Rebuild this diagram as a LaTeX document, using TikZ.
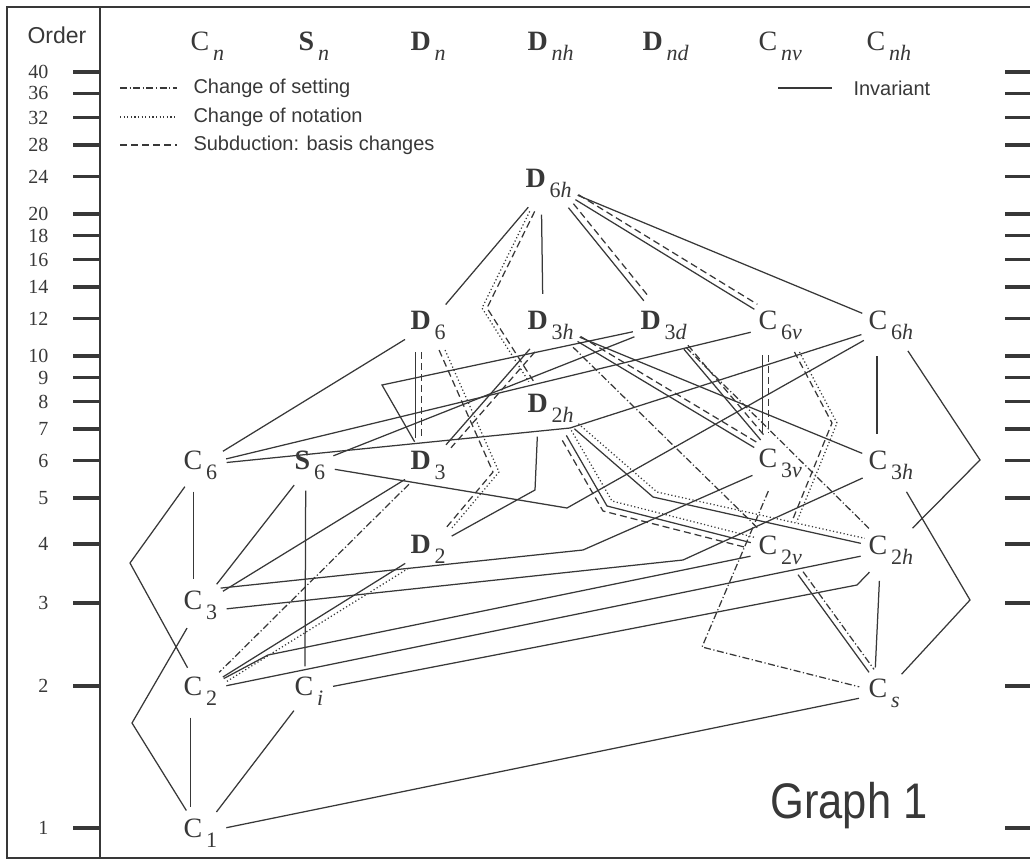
\documentclass[tikz,border=0pt]{standalone}
\usepackage{fontspec}
\setmainfont{Liberation Serif}
\newfontfamily\helv{Liberation Sans}
\usetikzlibrary{calc}
\definecolor{ink}{HTML}{383838}
\newcommand{\Grp}[3]{#1\hspace{4pt}\raisebox{-10pt}{\fontsize{22}{22}\selectfont #2\textit{#3}}}
\tikzset{Group/.style={
    circle,
    inner sep=3pt,
    text=ink,
    anchor=text,
    xshift=-9.5pt, yshift=-9.3pt,
    font=\fontsize{28}{28}\selectfont,
    }
}

\begin{document}
\begin{tikzpicture}[x=1pt, y=-1pt,
    inv/.style={draw=ink, line width=1.25pt},
    chset/.style={inv, dash pattern=on 7pt off 2.5pt on 1.2pt off 2.5pt},
    chnot/.style={inv, dash pattern=on 1.2pt off 2.4pt},
    subd/.style={inv, dash pattern=on 7pt off 4pt},
    sh/.style={transform canvas={shift={#1}}},
    Legend/.style={anchor=west, text=ink, font=\helv\fontsize{20}{20}\selectfont},
]
\useasboundingbox (0,0) rectangle (1030,861);
% frame and order scale
\draw[ink, line width=1.5pt] (1030,7) -- (7,7) -- (7,858) -- (1030,858);
\draw[ink, line width=1.2pt] (100,7) -- (100,858);
\node[text=ink, font=\helv\fontsize{23}{23}\selectfont] (order) at (57,35) {Order};
\foreach \n in {1,2,3,4,5,6,7,8,9,10,12,14,16,18,20,24,28,32,36,40}{
  \pgfmathsetmacro{\yy}{828-205*ln(\n)}
  \draw[ink, line width=3.5pt] (73,\yy) -- (100,\yy);
  \draw[ink, line width=3.5pt] (1005,\yy) -- (1030,\yy);
  \node[anchor=east, text=ink, font=\fontsize{20}{20}\selectfont] at (52,\yy) {\n};
}

% column heads
\node[Group] (hCn) at (200,41) {\Grp{C}{}{n}};
\node[Group] (hSn) at (308,41) {\Grp{\textbf{S}}{}{n}};
\node[Group] (hDn) at (420,41) {\Grp{\textbf{D}}{}{n}};
\node[Group] (hDnh) at (537,41) {\Grp{\textbf{D}}{}{nh}};
\node[Group] (hDnd) at (652,41) {\Grp{\textbf{D}}{}{nd}};
\node[Group] (hCnv) at (768,41) {\Grp{C}{}{nv}};
\node[Group] (hCnh) at (876,41) {\Grp{C}{}{nh}};

% legend
\node[Legend] (Lset) at (190,88) {Change of setting};
\node[Legend] (Lnot) at (190,117) {Change of notation};
\node[Legend] (Lsub) at (190,145) {Subduction: basis changes};
\node[Legend] (Linv) at (850,88) {Invariant};
\draw[chset] ([xshift=-70pt]Lset.west) -- ([xshift=-13pt]Lset.west);
\draw[chnot] ([xshift=-70pt]Lnot.west) -- ([xshift=-13pt]Lnot.west);
\draw[subd] ([xshift=-70pt]Lsub.west) -- ([xshift=-13pt]Lsub.west);
\draw[inv] ([xshift=-72pt]Linv.west) -- ([xshift=-18pt]Linv.west);

% groups
\node[Group] (D6h) at (535,178) {\Grp{\textbf{D}}{6}{h}};
\node[Group] (D6) at (420,320) {\Grp{\textbf{D}}{6}{}};
\node[Group] (D3h) at (537,320) {\Grp{\textbf{D}}{3}{h}};
\node[Group] (D3d) at (650,320) {\Grp{\textbf{D}}{3}{d}};
\node[Group] (C6v) at (768,320) {\Grp{C}{6}{v}};
\node[Group] (C6h) at (878,320) {\Grp{C}{6}{h}};
\node[Group] (D2h) at (537,403) {\Grp{\textbf{D}}{2}{h}};
\node[Group] (C6) at (193,460) {\Grp{C}{6}{}};
\node[Group] (S6) at (304,460) {\Grp{\textbf{S}}{6}{}};
\node[Group] (D3) at (420,460) {\Grp{\textbf{D}}{3}{}};
\node[Group] (C3v) at (768,458) {\Grp{C}{3}{v}};
\node[Group] (C3h) at (878,460) {\Grp{C}{3}{h}};
\node[Group] (D2) at (420,544) {\Grp{\textbf{D}}{2}{}};
\node[Group] (C2v) at (768,545) {\Grp{C}{2}{v}};
\node[Group] (C2h) at (878,545) {\Grp{C}{2}{h}};
\node[Group] (C3) at (193,600) {\Grp{C}{3}{}};
\node[Group] (C2) at (193,686) {\Grp{C}{2}{}};
\node[Group] (Ci) at (304,686) {\Grp{C}{}{i}};
\node[Group] (Cs) at (878,688) {\Grp{C}{}{s}};
\node[Group] (C1) at (193,828) {\Grp{C}{1}{}};

% bends
\coordinate (b1) at (487,308);
\coordinate (b2) at (493,472);
\coordinate (b3) at (382,385);
\coordinate (b4) at (832,423);
\coordinate (b5) at (980,460);
\coordinate (b6) at (570,428);
\coordinate (b7) at (567,508);
\coordinate (b8) at (535,490);
\coordinate (b9) at (607,506);
\coordinate (b10) at (653,497);
\coordinate (b11) at (130,563);
\coordinate (b12) at (583,550);
\coordinate (b13) at (683,560);
\coordinate (b14) at (132,723);
\coordinate (b15) at (702,647);
\coordinate (b16) at (970,600);
\coordinate (b17) at (857,585);
\coordinate (b18) at (268,655);

% order 24
\draw[inv] (D6h) -- (D6);
\draw[subd] (D6h) -- (b1) -- (D2h);
\draw[chnot, sh={(-5,0)}] (D6h) -- (b1) -- (D2h);
\draw[inv, sh={(-7.5,0)}] (D6h) -- (D3h);
\draw[inv] (D6h) -- (D3d);
\draw[subd, sh={(5,-4)}] (D6h) -- (D3d);
\draw[inv] (D6h) -- (C6v);
\draw[subd, sh={(3,-5)}] (D6h) -- (C6v);
\draw[inv] (D6h) -- (C6h);

% order 12
\draw[inv] (D6) -- (C6);
\draw[inv, sh={(-12.5,0)}] (D6) -- (D3);
\draw[subd, sh={(-6.5,0)}] (D6) -- (D3);
\draw[subd] (D6) -- (b2) -- (D2);
\draw[chnot, sh={(6,0)}] (D6) -- (b2) -- (D2);
\draw[inv] (D3h) -- (D3);
\draw[subd, sh={(5,3)}] (D3h) -- (D3);
\draw[inv] (D3h) -- (C3h);
\draw[inv] (D3h) -- (C3v);
\draw[subd, sh={(3,-5)}] (D3h) -- (C3v);
\draw[chset] (D3h) -- (C2v);
\draw[inv] (D3d) -- (b3) -- (D3);
\draw[inv] (D3d) -- (S6);
\draw[inv] (D3d) -- (C3v);
\draw[subd, sh={(4,-4)}] (D3d) -- (C3v);
\draw[chset] (D3d) -- (C2h);
\draw[inv, sh={(-17.8,0)}] (C6v) -- (C3v);
\draw[subd, sh={(-11.8,0)}] (C6v) -- (C3v);
\draw[subd] (C6v) -- (b4) -- (C2v);
\draw[chnot, sh={(5,0)}] (C6v) -- (b4) -- (C2v);
\draw[inv, sh={(-13.8,0)}] (C6h) -- (C3h);
\draw[inv] (C6h) -- (b5) -- (C2h);
\draw[inv] (C6) -- (b6) -- (C6h);
\draw[inv] (C6) -- (C6v);
\draw[inv] (S6) -- (b7) -- (C6h);

% order 8
\draw[inv] (D2h.-115) -- (b8) -- (D2);
\draw[inv] (D2h) -- (b9) -- (C2v);
\draw[subd, sh={(-4,5)}] (D2h) -- (b9) -- (C2v);
\draw[chnot, sh={(5,-5)}] (D2h) -- (b9) -- (C2v);
\draw[inv] (D2h) -- (b10) -- (C2h);
\draw[chnot, sh={(4,-5)}] (D2h) -- (b10) -- (C2h);

% order 6 and 4
\draw[inv] (C6) -- (b11) -- (C2);
\draw[inv, sh={(-7,0)}] (C6) -- (C3);
\draw[inv] (S6) -- (C3);
\draw[inv, sh={(-4,0)}] (S6) -- (Ci);
\draw[inv] (D3) -- (C3);
\draw[chset] (D3) -- (C2);
\draw[inv] (D2) -- (C2);
\draw[chnot, sh={(3,5)}] (D2) -- (C2);
\draw[chset] (C3v) -- (b15) -- (Cs);
\draw[inv] (C3h) -- (b16) -- (Cs);
\draw[inv] (C2v) -- (Cs);
\draw[chset, sh={(5,-3)}] (C2v) -- (Cs);
\draw[inv, sh={(-10,0)}] (C2h) -- (Cs);
\draw[inv] (C2h) -- (b17) -- (Ci);
\draw[inv] (C2h) -- (C2);
\draw[inv] (C2v) -- (b18) -- (C2);

% order 3 and 2
\draw[inv] (C3.40) -- (b12) -- (C3v);
\draw[inv] (C3.-8) -- (b13) -- (C3h);
\draw[inv] (C3) -- (b14) -- (C1);
\draw[inv, sh={(-10,0)}] (C2) -- (C1);
\draw[inv] (Ci) -- (C1);
\draw[inv] (Cs) -- (C1);

\node[anchor=base, text=ink, font=\helv\fontsize{50}{50}\selectfont] (title) at (849,818) {\scalebox{0.87}[1]{Graph 1}};
\end{tikzpicture}
\end{document}
